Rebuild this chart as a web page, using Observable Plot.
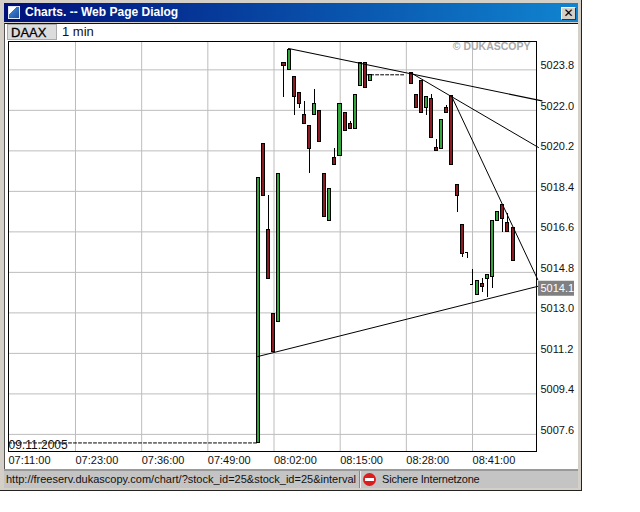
<!DOCTYPE html>
<html><head><meta charset="utf-8">
<script src="https://cdn.jsdelivr.net/npm/d3@7"></script>
<script src="https://cdn.jsdelivr.net/npm/@observablehq/plot@0.6"></script>
<style>
html,body{margin:0;padding:0;background:#fff;width:640px;height:512px;overflow:hidden;font-family:"Liberation Sans",Arial,sans-serif}
#win{position:absolute;left:0;top:0;width:581px;height:490px;background:#d4d0c8;border-right:1px solid #222;border-bottom:1px solid #222;box-sizing:content-box}
#title{position:absolute;left:4px;top:3px;width:574px;height:19px;background:linear-gradient(90deg,#000f7a,#1084d0);color:#fff;font:bold 12px "Liberation Sans",sans-serif;line-height:19px}
#title span{position:absolute;left:21px;top:0;white-space:nowrap}
#icon{position:absolute;left:4px;top:3px;width:12px;height:13px;background:linear-gradient(135deg,#fff 35%,#3a78c8 36%,#1c4fa0);border:1px solid #dfe8f5;box-sizing:border-box}
#close{position:absolute;left:557px;top:4px;width:15px;height:13px;background:#d4d0c8;border:1px solid;border-color:#fff #333 #333 #fff;box-sizing:border-box;font:bold 12px/11px "DejaVu Sans",sans-serif;color:#000;text-align:center}
#body{position:absolute;left:4px;top:23px;width:574px;height:446px;background:#fff;border-top:1px solid #111;box-sizing:border-box;border-left:1px solid #555}
#btn{position:absolute;left:7px;top:24px;width:50px;height:16px;background:#dcdcdc;border:1px solid #aaa;box-sizing:border-box;font:13px/15px "Liberation Sans",sans-serif;color:#000;padding-left:3px;-webkit-text-stroke:.3px #000}
#tf{position:absolute;left:62px;top:24px;font:13px/16px "Liberation Sans",sans-serif;color:#111}
#status{position:absolute;left:4px;top:469px;width:574px;height:19px;background:#c4c4c4;border-top:2px solid #999;box-sizing:border-box;font:11px/17px "Liberation Sans",sans-serif;color:#111}
#url{position:absolute;left:2px;top:0;white-space:nowrap}
#div{position:absolute;left:355px;top:0;width:2px;height:17px;border-left:1px solid #888;border-right:1px solid #eee;box-sizing:border-box}
#stop{position:absolute;left:359px;top:2px;width:13px;height:13px;border-radius:50%;background:#d81e1e}
#stop i{position:absolute;left:2px;top:5px;width:9px;height:3px;background:#fff}
#zone{position:absolute;left:378px;top:0;white-space:nowrap;letter-spacing:-.2px}
#chart{position:absolute;left:0;top:0;width:640px;height:512px}
#chart svg{background:transparent!important;display:block}
</style></head>
<body>
<div id="win">
  <div id="title"><div id="icon"></div><span>Charts. -- Web Page Dialog</span><div id="close">✕</div></div>
  <div id="body"></div>
  <div id="btn">DAAX</div><div id="tf">1 min</div>
  <div id="status"><div id="url">http://freeserv.dukascopy.com/chart/?stock_id=25&amp;stock_id=25&amp;interval</div><div id="div"></div><div id="stop"><i></i></div><div id="zone">Sichere Internetzone</div></div>
</div>
<div id="chart"></div>
<script>
const times = ["07:59","08:00","08:01","08:02","08:03","08:04","08:05","08:06","08:07","08:08","08:09","08:10","08:11","08:12","08:13","08:14","08:15","08:16","08:17","08:18","08:19","08:20","08:21","08:29","08:30","08:31","08:32","08:33","08:34","08:35","08:36","08:37","08:38","08:39","08:40","08:41","08:42","08:43","08:44","08:45","08:46","08:47","08:48","08:49"];
const opens = [5007.22,5020.51,5016.69,5012.93,5012.58,5024.11,5023.80,5023.47,5022.78,5021.80,5021.31,5021.80,5021.98,5019.18,5017.10,5019.89,5019.98,5021.89,5021.40,5021.18,5023.09,5024.09,5023.31,5023.65,5022.69,5023.31,5022.09,5022.51,5020.32,5020.27,5022.11,5022.64,5018.69,5016.91,5015.69,5014.27,5013.78,5014.30,5014.49,5014.58,5017.09,5017.80,5017.00,5016.78];
const closes = [5019.00,5018.18,5014.51,5011.25,5019.18,5023.96,5024.70,5022.58,5022.29,5021.40,5020.29,5022.29,5020.60,5017.28,5018.51,5019.58,5022.29,5021.09,5021.18,5022.69,5024.09,5023.00,5023.58,5023.16,5022.09,5021.87,5022.60,5020.76,5020.20,5021.58,5021.89,5019.58,5018.20,5015.62,5015.69,5014.27,5014.42,5014.17,5014.69,5017.09,5017.49,5017.16,5016.58,5015.29];
const highs = [5019.00,5020.51,5018.21,5012.93,5019.18,5024.11,5024.70,5023.47,5022.78,5022.39,5021.31,5022.91,5021.98,5019.18,5018.51,5020.29,5022.29,5021.89,5021.50,5022.69,5024.09,5024.09,5023.58,5023.65,5022.69,5023.31,5022.60,5022.70,5020.70,5021.58,5022.21,5022.64,5018.69,5016.91,5015.69,5014.91,5014.42,5014.51,5014.69,5017.09,5017.49,5017.80,5017.40,5016.78];
const lows = [5007.22,5018.18,5014.51,5011.25,5012.58,5022.58,5023.80,5021.77,5022.09,5021.40,5019.18,5021.80,5020.60,5017.28,5017.10,5019.58,5019.98,5021.09,5021.18,5021.18,5023.09,5023.00,5023.31,5023.16,5022.09,5021.87,5021.78,5020.76,5020.20,5020.27,5021.89,5019.58,5017.47,5015.47,5015.40,5014.27,5013.78,5013.92,5013.69,5014.09,5017.09,5016.58,5016.58,5015.29];

const yTicks = [5023.8,5022.0,5020.2,5018.4,5016.6,5014.8,5013.0,5011.2,5009.4,5007.6];
const xGridTimes = ["07:23","07:36","07:49","08:02","08:15","08:28","08:41"];
const xLabels = ["07:11:00","07:23:00","07:36:00","07:49:00","08:02:00","08:15:00","08:28:00","08:41:00"];
const xDomain = [429.84,533.57];
const yDomain = [5006.84,5025.06];
const lastPrice = 5014.1;
const dateLabel = "09.11.2005";

// trend lines: [minute, price] endpoints
const trend1 = [[484.85,5024.75],[534.65,5022.42]];
const trend2 = [[508.8,5023.68],[533.96,5020.35]];
const trend3 = [[516.87,5022.64],[533.83,5014.47]];
const trend4 = [[478.82,5011.06],[533.83,5014.18]];
// dashed gap connectors
const gap1 = [[xDomain[0],5007.22],[478.6,5007.22]];
const gap2 = [[500.0,5023.58],[507.6,5023.58]];
const priceTag = [533.96,541.04];

const toMin = s => { const [h,m] = s.split(":").map(Number); return h*60+m; };
const candles = times.map((t,i)=>({m:toMin(t),o:opens[i],c:closes[i],h:highs[i],l:lows[i]}));
const bodies = candles.filter(d=>d.o!==d.c);
const dojis = candles.filter(d=>d.o===d.c);
const xTickPos = [xDomain[0],...xGridTimes.map(toMin)];
const xTickData = xLabels.map((s,i)=>({x:xTickPos[i],s}));
const hw = 0.3, shift = -0.2, font = "Liberation Sans";
const up = "#33a53c", down = "#8c1c22";

const plot = Plot.plot({
  width:640,height:512,marginLeft:8,marginRight:104,marginTop:41,marginBottom:61,
  style:{background:"transparent",overflow:"visible"},
  x:{domain:xDomain,axis:null},
  y:{domain:yDomain,axis:null},
  marks:[
    Plot.ruleX(xGridTimes.map(toMin),{stroke:"#bdbdbd",strokeWidth:1}),
    Plot.ruleY(yTicks,{stroke:"#bdbdbd",strokeWidth:1}),
    Plot.line(gap1,{strokeDasharray:"3,2",stroke:"#000",strokeWidth:1}),
    Plot.line(gap2,{strokeDasharray:"3,2",stroke:"#000",strokeWidth:1}),
    Plot.text([dateLabel],{x:xDomain[0],y:5007.22,dx:0,dy:2,textAnchor:"start",fontFamily:font,fontSize:12,fill:"#111"}),
    Plot.ruleX(candles,{x:"m",y1:"l",y2:"h",dx:shift,stroke:"#000",strokeWidth:1,shapeRendering:"crispEdges"}),
    Plot.rect(bodies,{x1:d=>d.m-hw,x2:d=>d.m+hw,y1:"o",y2:"c",dx:shift,fill:d=>d.c>d.o?up:down,stroke:"#000",strokeWidth:1,shapeRendering:"crispEdges"}),
    Plot.ruleY(dojis,{y:"c",x1:d=>d.m-0.3,x2:d=>d.m+0.3,dx:shift,stroke:"#000",strokeWidth:1,shapeRendering:"crispEdges"}),
    Plot.line(trend1,{stroke:"#000",strokeWidth:1.1}),
    Plot.line(trend2,{stroke:"#000",strokeWidth:1}),
    Plot.line(trend3,{stroke:"#000",strokeWidth:1}),
    Plot.line(trend4,{stroke:"#000",strokeWidth:1}),
    Plot.frame({stroke:"#000",strokeWidth:1}),
    Plot.text(["© DUKASCOPY"],{frameAnchor:"top-right",dx:-6,dy:1,textAnchor:"end",fontFamily:font,fontWeight:"bold",fontSize:10.5,fill:"#a9a9a9"}),
    Plot.text(xTickData,{x:"x",text:"s",frameAnchor:"bottom",dx:0,dy:12,textAnchor:"start",fontFamily:font,fontSize:11,fill:"#111"}),
    Plot.text(yTicks,{x:xDomain[1],y:d=>d,text:d=>d.toFixed(1),dx:4,dy:-4,textAnchor:"start",fontFamily:font,fontSize:11,fill:"#111"}),
    Plot.ruleY([lastPrice],{x1:priceTag[0],x2:priceTag[1],stroke:"#808080",strokeWidth:15}),
    Plot.text([lastPrice],{x:xDomain[1],y:d=>d,text:d=>d.toFixed(1),dx:4,textAnchor:"start",fontFamily:font,fontSize:11,fill:"#fff"})
  ]
});
document.getElementById("chart").appendChild(plot);
</script>
</body></html>
